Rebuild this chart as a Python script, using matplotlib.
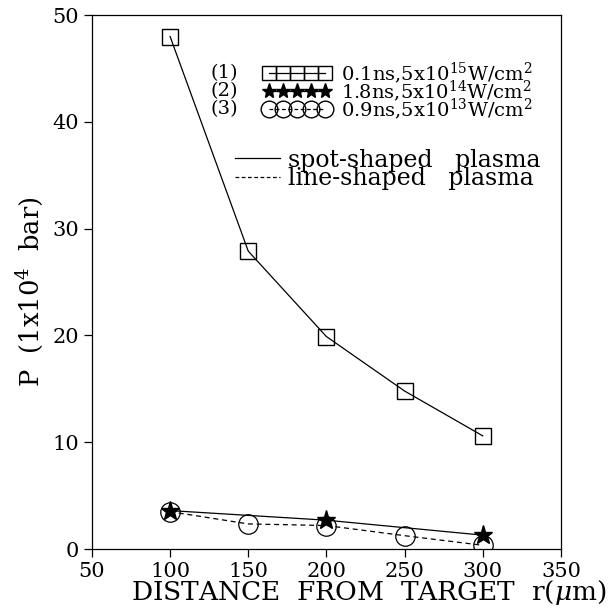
import numpy as np
import matplotlib
matplotlib.use("Agg")
import matplotlib.pyplot as plt
from matplotlib.lines import Line2D

plt.rcParams["font.family"] = ["DejaVu Serif"]
plt.rcParams["mathtext.fontset"] = "dejavuserif"

# data
r_sq = [100, 150, 200, 250, 300]
p_sq = [48.0, 27.9, 19.9, 14.8, 10.6]   # (1) 0.1ns, spot-shaped
r_st = [100, 200, 300]
p_st = [3.6, 2.7, 1.3]                  # (2) 1.8ns, spot-shaped
r_ci = [100, 150, 200, 250, 300]
p_ci = [3.5, 2.35, 2.2, 1.25, 0.35]     # (3) 0.9ns, line-shaped

labels = [r"0.1ns,5x$10^{15}$W/cm$^2$",
          r"1.8ns,5x$10^{14}$W/cm$^2$",
          r"0.9ns,5x$10^{13}$W/cm$^2$"]
nums = ["(1)", "(2)", "(3)"]

fig = plt.figure(figsize=(6.13, 6.08), dpi=100)
ax = fig.add_axes([0.150, 0.097, 0.765, 0.878])

ax.plot(r_sq, p_sq, color="black", lw=0.9, marker="s", ms=12, mfc="none", mec="black", mew=1.0)
ax.plot(r_st, p_st, color="black", lw=0.9, marker="*", ms=14, mfc="black", mec="black")
ax.plot(r_ci, p_ci, color="black", lw=0.9, ls=(0, (4, 3)), marker="o", ms=14,
        mfc="none", mec="black", mew=0.9)

ax.set_xlim(50, 350)
ax.set_ylim(0, 50)
ax.set_xticks(np.arange(50, 351, 50))
ax.set_yticks(np.arange(0, 51, 10))
ax.tick_params(direction="out", length=6, width=0.9, labelsize=15, top=False, right=False)
for s in ax.spines.values():
    s.set_linewidth(0.9)

ax.set_xlabel(r"DISTANCE  FROM  TARGET  r($\mu$m)", fontsize=19)
ax.xaxis.set_label_coords(0.59, -0.055)
ax.set_ylabel(r"P  (1x$10^4$  bar)", fontsize=18.5)
ax.yaxis.set_label_coords(-0.10, 0.481)

# legend 1: marker symbols
h1 = [Line2D([], [], color="black", lw=0.9, marker="s", ms=10.5, mfc="none", mec="black"),
      Line2D([], [], color="black", lw=0.9, marker="*", ms=11, mfc="black", mec="black"),
      Line2D([], [], color="black", lw=0.9, ls=(0, (3, 2)), marker="o", ms=12, mfc="none", mec="black")]
leg1 = ax.legend(h1, labels, loc="upper left", bbox_to_anchor=(0.365, 0.916),
                 numpoints=5, handlelength=3.5, handletextpad=0.5, labelspacing=-0.38,
                 fontsize=14, frameon=False, borderpad=0, borderaxespad=0)
ax.add_artist(leg1)

# legend 2: line styles
h2 = [Line2D([], [], color="black", lw=0.9),
      Line2D([], [], color="black", lw=0.9, ls=(0, (3, 2)))]
ax.legend(h2, ["spot-shaped   plasma", "line-shaped   plasma"], loc="upper left",
          bbox_to_anchor=(0.305, 0.75), handlelength=1.9, handletextpad=0.35,
          labelspacing=-0.2, fontsize=17, frameon=False, borderpad=0, borderaxespad=0)

# (1) (2) (3) in front of the symbol rows
fig.canvas.draw()
rend = fig.canvas.get_renderer()
for h, n in zip(leg1.legend_handles, nums):
    bb = h.get_window_extent(rend)
    yc = (bb.y0 + bb.y1) / 2 / fig.bbox.height
    fig.text(238 / 613, yc, n, ha="right", va="center", fontsize=14)

fig.savefig("out.png", dpi=100)
